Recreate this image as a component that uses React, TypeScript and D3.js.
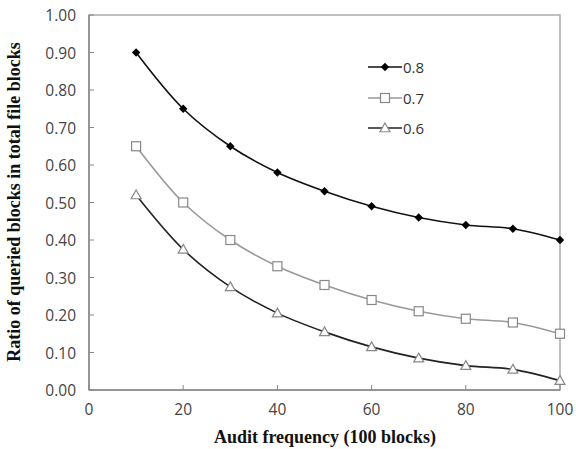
import React from "react";
import * as d3 from "d3";

const xValues = [10, 20, 30, 40, 50, 60, 70, 80, 90, 100];
const series08 = [0.9, 0.75, 0.65, 0.58, 0.53, 0.49, 0.46, 0.44, 0.43, 0.4];
const series07 = [0.65, 0.5, 0.4, 0.33, 0.28, 0.24, 0.21, 0.19, 0.18, 0.15];
const series06 = [0.52, 0.375, 0.275, 0.205, 0.155, 0.115, 0.085, 0.065, 0.055, 0.025];
const seriesNames = ["0.8", "0.7", "0.6"];
const xTicks = [0, 20, 40, 60, 80, 100];
const yTicks = [0, 0.1, 0.2, 0.3, 0.4, 0.5, 0.6, 0.7, 0.8, 0.9, 1.0];

const W = 576, H = 449;
const L = 89, R = 560, T = 15, B = 390;

export default function App() {
  const x = d3.scaleLinear().domain([0, 100]).range([L, R]);
  const y = d3.scaleLinear().domain([0, 1]).range([B, T]);
  const line = d3
    .line<number>()
    .x((_, i) => x(xValues[i]))
    .y((d) => y(d))
    .curve(d3.curveCatmullRom.alpha(0.5));

  const seriesList = [
    { name: seriesNames[0], data: series08, lineColor: "#111", marker: "diamond" },
    { name: seriesNames[1], data: series07, lineColor: "#999", marker: "square" },
    { name: seriesNames[2], data: series06, lineColor: "#222", marker: "triangle" },
  ];

  const marker = (type: string, cx: number, cy: number, key: any) => {
    if (type === "diamond") {
      const s = 4.2;
      return (
        <path key={key} d={`M${cx},${cy - s}L${cx + s},${cy}L${cx},${cy + s}L${cx - s},${cy}Z`} fill="#000" />
      );
    }
    if (type === "square") {
      const s = 4.5;
      return (
        <rect key={key} x={cx - s} y={cy - s} width={2 * s} height={2 * s} fill="#fff" stroke="#888" strokeWidth={1.2} />
      );
    }
    const s = 5;
    return (
      <path
        key={key}
        d={`M${cx},${cy - s}L${cx + s},${cy + s * 0.75}L${cx - s},${cy + s * 0.75}Z`}
        fill="#fff"
        stroke="#888"
        strokeWidth={1.2}
      />
    );
  };

  const legendY = [67, 98, 128];
  const legendX1 = 368, legendX2 = 402;

  return (
    <svg width={W} height={H} style={{ display: "block", position: "absolute", left: 0, top: 0 }}>
      <rect x={0} y={0} width={W} height={H} fill="#fff" />
      {/* plot box */}
      <rect x={L} y={T} width={R - L} height={B - T} fill="none" stroke="#aaa" strokeWidth={1.5} />
      <line x1={L} x2={R} y1={B} y2={B} stroke="#888" strokeWidth={1.5} />
      <line x1={L} x2={L} y1={T} y2={B} stroke="#888" strokeWidth={1.5} />
      {/* ticks */}
      {yTicks.map((t, i) => (
        <g key={"y" + i}>
          <line x1={L} x2={L + 5} y1={y(t)} y2={y(t)} stroke="#888" strokeWidth={1} />
          <text
            x={76}
            y={y(t)}
            textAnchor="end"
            dominantBaseline="central"
            fontFamily="'Open Sans', 'Noto Sans', sans-serif"
            fontSize={15.5}
            fill="#444"
          >
            {t.toFixed(2)}
          </text>
        </g>
      ))}
      {xTicks.map((t, i) => (
        <g key={"x" + i}>
          <line x1={x(t)} x2={x(t)} y1={B} y2={B - 5} stroke="#888" strokeWidth={1} />
          <text
            x={x(t)}
            y={409}
            textAnchor="middle"
            dominantBaseline="central"
            fontFamily="'Open Sans', 'Noto Sans', sans-serif"
            fontSize={15.5}
            fill="#444"
          >
            {t}
          </text>
        </g>
      ))}
      {/* series */}
      {seriesList.map((s, si) => (
        <g key={"s" + si}>
          <path d={line(s.data) || ""} fill="none" stroke={s.lineColor} strokeWidth={1.6} />
          {s.data.map((v, i) => marker(s.marker, x(xValues[i]), y(v), i))}
        </g>
      ))}
      {/* legend */}
      {seriesList.map((s, si) => (
        <g key={"l" + si}>
          <line x1={legendX1} x2={legendX2} y1={legendY[si]} y2={legendY[si]} stroke={s.lineColor} strokeWidth={1.6} />
          {marker(s.marker, (legendX1 + legendX2) / 2, legendY[si], "m")}
          <text
            x={legendX2 + 1}
            y={legendY[si]}
            dominantBaseline="central"
            fontFamily="'Open Sans', 'Noto Sans', sans-serif"
            fontSize={15}
            fill="#333"
          >
            {s.name}
          </text>
        </g>
      ))}
      {/* axis titles */}
      <text
        x={325}
        y={437}
        textAnchor="middle"
        dominantBaseline="central"
        fontFamily="'Liberation Serif', 'DejaVu Serif', serif"
        fontWeight="bold"
        fontSize={18}
        fill="#111"
      >
        Audit frequency (100 blocks)
      </text>
      <text
        transform={`translate(14, 202) rotate(-90)`}
        textAnchor="middle"
        dominantBaseline="central"
        fontFamily="'Liberation Serif', 'DejaVu Serif', serif"
        fontWeight="bold"
        fontSize={18}
        fill="#111"
      >
        Ratio of queried blocks in total file blocks
      </text>
    </svg>
  );
}
